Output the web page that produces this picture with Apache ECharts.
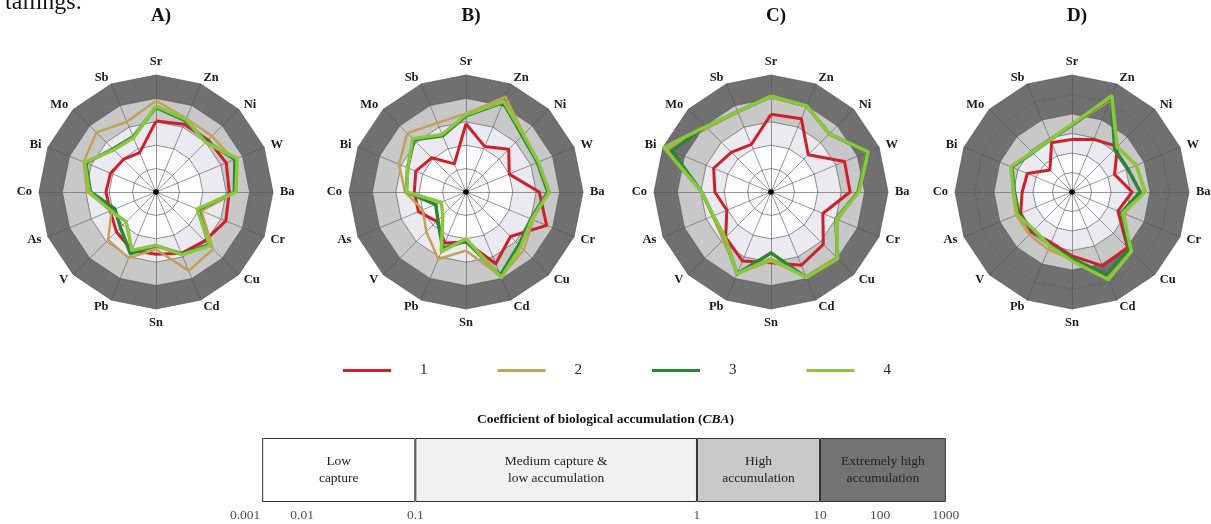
<!DOCTYPE html>
<html><head><meta charset="utf-8">
<script src="https://cdn.jsdelivr.net/npm/echarts@6/dist/echarts.min.js"></script>
<style>html,body{margin:0;padding:0;background:#fff}#c{width:1211px;height:524px}</style>
</head><body><div id="c"></div>
<script>
// ---- data ----
const elements = ['Sr','Zn','Ni','W','Ba','Cr','Cu','Cd','Sn','Pb','V','As','Co','Bi','Mo','Sb'];
const panelTitles = ['A)','B)','C)','D)'];
const groups = ['1','2','3','4'];
// CBA values, one array per group and panel (order = elements)
const A1 = [1.07,1.35,1.41,1.78,1.35,1.7,0.89,0.68,0.46,0.49,0.25,0.13,0.138,0.126,0.093,0.066];
const A2 = [8.0,2.51,2.4,3.98,2.82,0.126,2.82,4.47,0.28,1.12,0.79,0.112,0.89,2.24,3.98,1.78];
const A3 = [4.17,2.0,1.12,4.47,2.24,0.089,1.58,0.71,0.2,0.71,0.141,0.079,0.63,1.78,0.4,0.355];
const A4 = [4.68,2.29,1.0,5.62,2.63,0.079,1.82,0.79,0.19,0.5,0.063,0.126,0.71,2.0,0.355,0.32];
const B1 = [0.83,0.126,0.38,0.1,1.35,5.37,0.49,2.09,0.138,0.23,0.059,0.158,0.162,0.21,0.117,0.02];
const B2 = [2.24,25.1,3.16,2.0,3.16,1.26,3.16,7.94,0.32,1.26,0.25,0.1,0.4,1.26,3.55,1.58];
const B3 = [1.78,14.1,2.51,2.0,3.16,1.0,1.58,7.08,0.126,0.4,0.05,0.025,0.355,0.5,1.41,0.4];
const B4 = [2.0,15.8,2.95,2.24,3.63,1.12,2.0,8.9,0.1,0.575,0.025,0.014,0.35,0.5,1.66,0.46];
const C1 = [2.09,2.45,0.178,2.51,2.4,0.25,1.45,2.45,1.05,1.55,0.55,0.11,0.25,0.45,0.25,0.158];
const C2 = [11,8.9,3.55,25,5.0,1.26,8.9,7.94,0.89,5.62,0.79,0.5,0.89,63,7.08,5.0];
const C3 = [12.6,9.55,3.3,28,5.37,1.0,10.7,9.1,0.4,6.17,0.59,0.47,0.91,39.8,8.9,5.25];
const C4 = [12.6,9.55,3.3,30.9,5.75,1.05,10.7,9.1,0.71,6.17,0.59,0.47,0.91,89,8.9,5.25];
const D1 = [0.5,0.83,2.0,0.23,1.2,0.355,10.5,12.6,1.9,0.63,0.83,0.71,0.36,0.3,0.04,0.54];
const D2 = [2.51,126,2.0,3.98,5.0,0.79,15.8,50,2.82,1.58,1.26,1.26,1.12,2.24,0.79,0.89];
const D3 = [2.82,178,1.26,1.26,3.16,0.56,14.1,39.8,2.51,0.89,0.63,0.89,0.89,2.24,0.71,0.79];
const D4 = [3.0,214,1.86,3.63,5.75,0.66,20.4,72.4,3.47,1.0,0.55,1.1,1.0,2.51,0.76,0.81];
const panelData = [[A1,A2,A3,A4],[B1,B2,B3,B4],[C1,C2,C3,C4],[D1,D2,D3,D4]];
// radial scale (CBA, log): min and max per panel
const scaleMin = [0.001,0.001,0.001,0.001];
const scaleMax = [100,100,100,1000];
// CBA classes
const cbaClasses = ['Low\ncapture','Medium capture &\nlow accumulation','High\naccumulation','Extremely high\naccumulation'];
const cbaTickLabels = ['0.001','0.01','0.1','1','10','100','1000'];

// ---- styles / layout ----
const serif = '"Liberation Serif","Times New Roman",serif';
const groupColors = ['#cf1f2b','#c2a256','#2b8535','#8cc63f'];
const groupWidths = [3,2.5,3.5,3.5];
const centers = [[156,192],[466,192],[771,192],[1072,192]];
const R = 117;
const classColor = (lg) => lg < -1 ? '#fdfcff' : lg < 0 ? '#eaeaf0' : lg < 1 ? '#c8c8c8' : '#707070';
// indicator order: ECharts radar runs counter-clockwise, reference runs clockwise
const order = [0].concat(elements.map((e,i)=>i).slice(1).reverse());

const radars = centers.map((c,i)=>{
  const lo = Math.log10(scaleMin[i]), hi = Math.log10(scaleMax[i]);
  const bands = [];
  for (let v = lo; v < hi; v++) bands.push(classColor(v));
  return {
    center: c, radius: R, startAngle: 90, shape: 'polygon', splitNumber: hi - lo,
    indicator: order.map(k=>({name: elements[k], min: lo, max: hi})),
    axisName: {color:'#1a1a1a', fontFamily: serif, fontWeight:'bold', fontSize:12.5},
    nameGap: 7,
    splitLine: {lineStyle:{color:'#4a4a4a', width:0.6}},
    splitArea: {show:true, areaStyle:{color: bands}},
    axisLine: {lineStyle:{color:'#555', width:0.6}},
    axisTick: {show:false}, axisLabel: {show:false}
  };
});

const series = panelData.map((ps,i)=>({
  type:'radar', radarIndex:i, symbol:'none', silent:true,
  data: ps.map((arr,g)=>({
    name: groups[g],
    value: order.map(k=>Math.log10(arr[k])),
    lineStyle:{color:groupColors[g], width:groupWidths[g]},
    itemStyle:{color:groupColors[g]}
  }))
}));

// colour-scale bar (units: 0..100 across the box)
const cbaBounds = [0,22.4,63.6,81.6,100];
const cbaTickPos = [-2.5,5.85,22.4,63.6,81.6,90.4,100];
const classFill = ['#ffffff','#f1f1f1','#c9c9c9','#737373'];
cbaClasses.forEach((t,j)=>{
  series.push({
    type:'bar', stack:'cba', xAxisIndex:0, yAxisIndex:0, barWidth:64, silent:true,
    data:[cbaBounds[j+1]-cbaBounds[j]],
    itemStyle:{color:classFill[j], borderColor:'#333', borderWidth:1},
    label:{show:true, position:'inside', formatter:t, fontFamily:serif, fontSize:13.5, lineHeight:17, color:'#222'}
  });
});
series.push({
  type:'scatter', xAxisIndex:0, yAxisIndex:0, silent:true, symbolSize:0,
  data: cbaTickPos.map((p,j)=>({value:[p,0], label:{formatter:cbaTickLabels[j]}})),
  label:{show:true, position:'bottom', distance:38, fontFamily:serif, fontSize:13.5, color:'#222'}
});

const option = {
  animation:false,
  backgroundColor:'#fff',
  title: panelTitles.map((t,i)=>({text:t, left:centers[i][0], top:2, textAlign:'center',
      textStyle:{fontFamily:serif, fontWeight:'bold', fontSize:19, color:'#111'}}))
    .concat([
      {text:'tailings.', left:0, top:-14, textStyle:{fontFamily:serif, fontWeight:'normal', fontSize:24, color:'#111'}},
      {text:'Coefficient of biological accumulation ({i|CBA})', left:'center', top:408,
        textStyle:{fontFamily:serif, fontWeight:'bold', fontSize:13.5, color:'#111',
          rich:{i:{fontFamily:serif, fontWeight:'bold', fontStyle:'italic', fontSize:13.5, color:'#111'}}}}
    ]),
  legend:{data:groups, left:338, top:358, itemWidth:48, itemHeight:3, itemGap:70, icon:'rect',
    selectedMode:false,
    textStyle:{fontFamily:serif, fontSize:15, color:'#222', padding:[0,0,0,24]}},
  radar: radars,
  grid:{left:228, right:231, top:438, height:64},
  xAxis:{type:'value', min:-5, max:105, show:false},
  yAxis:{type:'category', data:['cba'], show:false},
  graphic: centers.map(c=>({type:'circle', shape:{cx:c[0], cy:c[1], r:2.8}, style:{fill:'#000'}, z:100})),
  series
};
const chart = echarts.init(document.getElementById('c'));
chart.setOption(option);
</script></body></html>
